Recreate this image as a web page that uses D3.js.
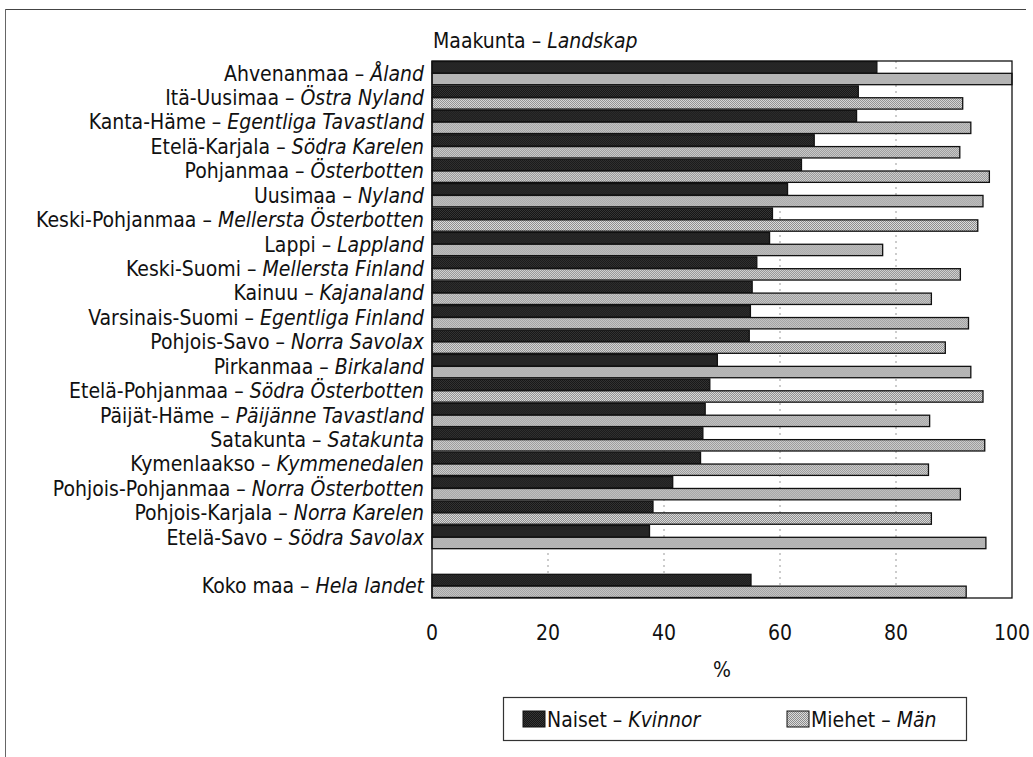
<!DOCTYPE html>
<html>
<head>
<meta charset="utf-8">
<script src="https://cdn.jsdelivr.net/npm/d3@7"></script>
<style>
  body { margin: 0; background: #fff; }
  svg { display: block; }
  text { font-family: "DejaVu Sans Condensed", "Liberation Sans Narrow", sans-serif; fill: #111; }
</style>
</head>
<body>
<div id="chart"></div>
<script>
// Regions, Finnish and Swedish names ('' = spacer row)
const regionsFi = ['Ahvenanmaa', 'Itä-Uusimaa', 'Kanta-Häme', 'Etelä-Karjala', 'Pohjanmaa', 'Uusimaa',
    'Keski-Pohjanmaa', 'Lappi', 'Keski-Suomi', 'Kainuu', 'Varsinais-Suomi', 'Pohjois-Savo', 'Pirkanmaa',
    'Etelä-Pohjanmaa', 'Päijät-Häme', 'Satakunta', 'Kymenlaakso', 'Pohjois-Pohjanmaa', 'Pohjois-Karjala',
    'Etelä-Savo', '', 'Koko maa'];
const regionsSv = ['Åland', 'Östra Nyland', 'Egentliga Tavastland', 'Södra Karelen', 'Österbotten', 'Nyland',
    'Mellersta Österbotten', 'Lappland', 'Mellersta Finland', 'Kajanaland', 'Egentliga Finland', 'Norra Savolax',
    'Birkaland', 'Södra Österbotten', 'Päijänne Tavastland', 'Satakunta', 'Kymmenedalen', 'Norra Österbotten',
    'Norra Karelen', 'Södra Savolax', '', 'Hela landet'];

// Percent values (null = spacer row)
const naiset = [76.7, 73.5, 73.2, 65.9, 63.7, 61.3, 58.7, 58.2, 56.0, 55.2, 54.9, 54.7, 49.2, 47.9, 47.1,
    46.7, 46.3, 41.5, 38.1, 37.5, null, 55.0];
const miehet = [100, 91.5, 92.9, 91.0, 96.1, 95.0, 94.1, 77.7, 91.1, 86.1, 92.5, 88.5, 92.9, 95.0, 85.8,
    95.3, 85.6, 91.1, 86.1, 95.5, null, 92.1];

const xTicks = [0, 20, 40, 60, 80, 100];
const series = ['naiset', 'miehet'];
const legendFi = ['Naiset', 'Miehet'];
const legendSv = ['Kvinnor', 'Män'];

const width = 1033, height = 757;
const margin = { left: 432, right: 21, top: 61, bottom: 159 };
const fontSize = 21;

const svg = d3.select('#chart').append('svg')
    .attr('width', width)
    .attr('height', height);

// Stipple patterns
const defs = svg.append('defs');
function stipple(id, a, b) {
    const p = defs.append('pattern')
        .attr('id', id)
        .attr('width', 2).attr('height', 2)
        .attr('patternUnits', 'userSpaceOnUse');
    p.append('rect').attr('width', 2).attr('height', 2).attr('fill', a);
    p.append('rect').attr('width', 1).attr('height', 1).attr('fill', b);
    p.append('rect').attr('x', 1).attr('y', 1).attr('width', 1).attr('height', 1).attr('fill', b);
}
stipple('darkFill', '#161616', '#353535');
stipple('lightFill', '#dcdcdc', '#8c8c8c');
const fills = { naiset: 'url(#darkFill)', miehet: 'url(#lightFill)' };

// Outer frame (top and left edges)
svg.append('line').attr('x1', 5).attr('x2', 1026).attr('y1', 9.5).attr('y2', 9.5)
    .attr('stroke', '#444').attr('stroke-width', 1.2);
svg.append('line').attr('x1', 5.5).attr('x2', 5.5).attr('y1', 9).attr('y2', height)
    .attr('stroke', '#666').attr('stroke-width', 1);

const x = d3.scaleLinear().domain([0, 100]).range([margin.left, width - margin.right]);
const keys = regionsFi.map((d, i) => 'r' + i);
const y0 = d3.scaleBand().domain(keys).range([margin.top, height - margin.bottom])
    .paddingInner(0.05).paddingOuter(0.02);
const y1 = d3.scaleBand().domain(series).range([0, y0.bandwidth()]).paddingInner(0.04);

// Dotted grid
svg.append('g')
    .selectAll('line')
    .data(xTicks.slice(1, -1))
    .enter().append('line')
    .attr('x1', d => x(d)).attr('x2', d => x(d))
    .attr('y1', margin.top).attr('y2', height - margin.bottom)
    .attr('stroke', '#999')
    .attr('stroke-width', 1)
    .attr('stroke-dasharray', '2,4');

// Bars
const rows = keys.map((k, i) => ({ key: k, naiset: naiset[i], miehet: miehet[i] }))
    .filter(d => d.naiset !== null);

svg.append('g')
    .selectAll('g')
    .data(rows)
    .enter().append('g')
    .attr('transform', d => `translate(0,${y0(d.key)})`)
    .selectAll('rect')
    .data(d => series.map(s => ({ s, v: d[s] })))
    .enter().append('rect')
    .attr('x', x(0))
    .attr('y', d => y1(d.s))
    .attr('width', d => x(d.v) - x(0))
    .attr('height', y1.bandwidth())
    .attr('fill', d => fills[d.s])
    .attr('stroke', '#111')
    .attr('stroke-width', 1.3);

// Plot frame
svg.append('rect')
    .attr('x', x(0)).attr('y', margin.top)
    .attr('width', x(100) - x(0))
    .attr('height', height - margin.bottom - margin.top)
    .attr('fill', 'none')
    .attr('stroke', '#111')
    .attr('stroke-width', 1.3);

// Category labels
const labels = svg.append('g')
    .selectAll('text')
    .data(keys.filter((k, i) => regionsFi[i] !== ''))
    .enter().append('text')
    .attr('x', margin.left - 8)
    .attr('y', d => y0(d) + y0.bandwidth() / 2)
    .attr('dy', '0.36em')
    .attr('text-anchor', 'end')
    .attr('font-size', fontSize);
labels.append('tspan').text(d => regionsFi[+d.slice(1)] + ' – ');
labels.append('tspan').attr('font-style', 'italic').text(d => regionsSv[+d.slice(1)]);

// Title, aligned with the plot's left edge
const title = svg.append('text')
    .attr('x', margin.left + 1).attr('y', 48)
    .attr('font-size', fontSize);
title.append('tspan').text('Maakunta – ');
title.append('tspan').attr('font-style', 'italic').text('Landskap');

// X axis tick labels
svg.append('g')
    .selectAll('text')
    .data(xTicks)
    .enter().append('text')
    .attr('x', d => x(d))
    .attr('y', 640)
    .attr('text-anchor', 'middle')
    .attr('font-size', fontSize)
    .text(d => d);

svg.append('text')
    .attr('x', x(50)).attr('y', 677)
    .attr('text-anchor', 'middle')
    .attr('font-size', fontSize)
    .text('%');

// Legend
const legend = svg.append('g');
legend.append('rect')
    .attr('x', 503.5).attr('y', 697.5).attr('width', 463).attr('height', 43)
    .attr('fill', '#fff').attr('stroke', '#333').attr('stroke-width', 1.2);
const legX = [523, 787];
series.forEach((s, i) => {
    legend.append('rect')
        .attr('x', legX[i]).attr('y', 711).attr('width', 22).attr('height', 16)
        .attr('fill', fills[s]).attr('stroke', '#111').attr('stroke-width', 1);
    const t = legend.append('text')
        .attr('x', legX[i] + 24).attr('y', 727)
        .attr('font-size', fontSize);
    t.append('tspan').text(legendFi[i] + ' – ');
    t.append('tspan').attr('font-style', 'italic').text(legendSv[i]);
});
</script>
</body>
</html>
